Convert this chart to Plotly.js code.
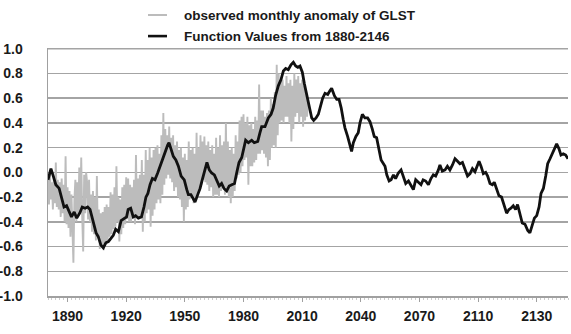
<!DOCTYPE html>
<html>
<head>
<meta charset="utf-8">
<script src="https://cdn.plot.ly/plotly-3.0.1.min.js"></script>
<style>
  html, body { margin: 0; padding: 0; background: #ffffff; }
  #chart { width: 571px; height: 334px; }
</style>
</head>
<body>
<div id="chart"></div>
<script>
// Observed monthly anomaly of GLST, sampled every half year from 1880.0
const obsStartYear = 1880;
const obsStep = 0.5;
const obsValues = [
  -0.05, -0.26, 0.00, -0.22,
  -0.08, -0.30, -0.03, -0.25,
  0.08, -0.28, -0.06, -0.30,
  -0.08, -0.36, -0.05, -0.33,
  -0.10, -0.40, 0.13, -0.42,
  -0.12, -0.45, -0.15, -0.52,
  -0.18, -0.48, -0.73, -0.22,
  -0.06, -0.40, -0.08, -0.35,
  0.04, -0.33, 0.12, -0.36,
  -0.64, -0.02, -0.33, 0.00,
  -0.08, -0.38, -0.06, -0.40,
  -0.18, -0.48, -0.15, -0.50,
  -0.20, -0.55, -0.03, -0.52,
  -0.30, -0.62, -0.33, -0.60,
  -0.32, -0.63, -0.28, -0.58,
  -0.26, -0.55, -0.28, -0.52,
  -0.16, -0.50, -0.18, -0.46,
  -0.12, -0.44, 0.05, -0.40,
  -0.20, -0.56, -0.22, -0.50,
  -0.12, -0.45, -0.10, -0.42,
  -0.04, -0.38, -0.05, -0.40,
  -0.10, -0.40, -0.12, -0.37,
  -0.06, -0.42, 0.14, -0.35,
  -0.05, -0.38, -0.02, -0.36,
  0.10, -0.48, -0.02, -0.40,
  0.18, -0.33, 0.10, -0.30,
  0.20, -0.44, 0.12, -0.35,
  0.18, -0.30, 0.20, -0.25,
  0.22, -0.22, 0.15, -0.25,
  0.30, -0.18, 0.48, -0.10,
  0.35, -0.05, 0.30, -0.02,
  0.37, -0.05, 0.28, -0.08,
  0.30, -0.15, 0.22, -0.12,
  0.25, -0.20, 0.18, -0.22,
  0.20, -0.28, 0.12, -0.40,
  0.15, -0.30, 0.10, -0.28,
  0.25, -0.22, 0.18, -0.20,
  0.20, -0.25, 0.15, -0.22,
  0.32, -0.18, 0.20, -0.15,
  0.30, -0.10, 0.25, -0.06,
  0.29, -0.08, 0.22, -0.10,
  0.25, -0.15, 0.18, -0.12,
  0.22, -0.20, 0.15, -0.18,
  0.28, -0.18, 0.20, -0.20,
  0.30, -0.15, 0.22, -0.12,
  0.25, -0.18, 0.40, -0.16,
  0.25, -0.20, 0.18, -0.25,
  0.20, -0.20, 0.15, -0.15,
  0.30, -0.05, 0.25, -0.02,
  0.42, 0.00, 0.45, 0.05,
  0.47, 0.10, 0.40, 0.12,
  0.45, -0.10, 0.38, 0.05,
  0.40, 0.05, 0.35, 0.08,
  0.45, 0.10, 0.42, 0.15,
  0.71, 0.15, 0.50, 0.18,
  0.50, 0.15, 0.45, 0.12,
  0.48, 0.05, 0.50, 0.10,
  0.60, 0.20, 0.55, 0.22,
  0.65, 0.20, 0.87, 0.30,
  0.80, 0.40, 0.75, 0.42,
  0.75, 0.40, 0.70, 0.45,
  0.78, 0.45, 0.72, 0.40,
  0.75, 0.25, 0.70, 0.35,
  0.80, 0.45, 0.75, 0.48,
  0.78, 0.40, 0.72, 0.45,
  0.75, 0.37, 0.70, 0.42,
  0.65, 0.45, 0.60
];

// Function values from 1880-2146
const fnYears = [
  1880.0, 1881.5, 1882.7, 1884.0, 1885.7, 1887.0, 1888.2, 1889.5, 1890.7, 1892.0,
  1893.4, 1894.7, 1896.2, 1897.5, 1899.0, 1900.3, 1901.5, 1902.9, 1904.6, 1905.7,
  1907.1, 1908.3, 1909.6, 1910.9, 1912.2, 1913.4, 1914.6, 1916.0, 1917.4, 1919.0,
  1920.2, 1921.0, 1922.3, 1923.6, 1924.8, 1926.2, 1927.8, 1929.1, 1930.1, 1931.1,
  1932.2, 1933.4, 1934.7, 1936.1, 1937.3, 1938.5, 1939.8, 1941.2, 1941.9, 1943.0,
  1944.1, 1945.4, 1946.7, 1948.1, 1949.7, 1951.0, 1951.8, 1953.1, 1954.3, 1955.2,
  1956.6, 1957.8, 1958.9, 1960.3, 1961.3, 1962.5, 1963.7, 1965.1, 1966.3, 1967.6,
  1968.8, 1970.0, 1971.4, 1972.7, 1974.0, 1975.4, 1976.5, 1977.7, 1979.1, 1980.0,
  1981.1, 1982.5, 1984.2, 1985.5, 1987.3, 1988.4, 1989.3, 1991.0, 1992.7, 1994.1,
  1995.2, 1996.4, 1997.8, 1999.2, 2000.4, 2001.6, 2002.9, 2004.3, 2005.5, 2006.7,
  2007.8, 2008.9, 2010.1, 2011.1, 2012.3, 2013.5, 2014.9, 2015.9, 2017.1, 2018.3,
  2019.6, 2020.5, 2021.7, 2023.1, 2024.2, 2025.1, 2026.5, 2027.7, 2028.9, 2030.0,
  2031.0, 2031.9, 2033.3, 2034.5, 2035.3, 2036.2, 2037.5, 2038.7, 2039.6, 2040.8,
  2042.1, 2043.5, 2044.7, 2045.9, 2046.9, 2048.1, 2049.0, 2050.4, 2051.2, 2052.4,
  2053.3, 2054.5, 2055.5, 2056.7, 2057.8, 2059.2, 2060.6, 2061.8, 2063.0, 2064.4,
  2065.7, 2066.9, 2068.1, 2069.4, 2070.8, 2071.9, 2073.2, 2074.6, 2075.9, 2077.1,
  2078.3, 2079.7, 2080.5, 2081.7, 2083.1, 2084.3, 2085.6, 2086.9, 2088.2, 2089.5,
  2090.7, 2092.0, 2093.3, 2094.6, 2095.9, 2097.1, 2098.4, 2099.7, 2100.5, 2101.5,
  2102.7, 2103.9, 2104.9, 2106.1, 2107.3, 2108.3, 2109.5, 2110.7, 2112.0, 2112.9,
  2113.8, 2114.6, 2115.8, 2116.8, 2118.0, 2119.2, 2120.2, 2121.5, 2122.6, 2124.0,
  2125.4, 2126.5, 2127.4, 2128.8, 2130.0, 2131.2, 2132.2, 2133.4, 2134.6, 2135.6,
  2136.8, 2138.0, 2139.0, 2140.2, 2141.4, 2142.4, 2143.6, 2144.8, 2146.0
];
const fnValues = [
  -0.06, 0.03, -0.03, -0.10, -0.13, -0.22, -0.28, -0.27, -0.32, -0.36,
  -0.32, -0.37, -0.33, -0.28, -0.29, -0.28, -0.30, -0.38, -0.49, -0.52,
  -0.59, -0.61, -0.57, -0.56, -0.53, -0.51, -0.46, -0.48, -0.39, -0.37,
  -0.36, -0.30, -0.29, -0.36, -0.35, -0.37, -0.36, -0.28, -0.20, -0.17,
  -0.10, -0.05, -0.06, -0.005, 0.05, 0.10, 0.16, 0.22, 0.24, 0.18,
  0.13, 0.10, 0.05, -0.03, -0.06, -0.14, -0.18, -0.18, -0.22, -0.24,
  -0.18, -0.13, -0.06, 0.02, 0.08, 0.02, -0.005, -0.02, -0.07, -0.11,
  -0.09, -0.13, -0.15, -0.11, -0.10, -0.09, -0.005, 0.08, 0.12, 0.18,
  0.26, 0.24, 0.26, 0.24, 0.25, 0.32, 0.37, 0.37, 0.44, 0.47,
  0.52, 0.62, 0.70, 0.75, 0.82, 0.84, 0.83, 0.87, 0.89, 0.86,
  0.85, 0.86, 0.81, 0.72, 0.63, 0.54, 0.44, 0.42, 0.44, 0.47,
  0.54, 0.60, 0.64, 0.63, 0.66, 0.68, 0.62, 0.59, 0.59, 0.52,
  0.43, 0.36, 0.29, 0.21, 0.17, 0.24, 0.29, 0.32, 0.40, 0.47,
  0.44, 0.44, 0.41, 0.35, 0.29, 0.28, 0.21, 0.10, 0.08, 0.05,
  -0.02, -0.07, -0.06, -0.02, -0.05, -0.005, 0.02, -0.03, -0.09, -0.07,
  -0.11, -0.14, -0.06, -0.08, -0.10, -0.06, -0.07, -0.10, -0.05, -0.02,
  -0.03, 0.02, 0.06, 0.01, 0.02, 0.05, 0.02, 0.06, 0.11, 0.09,
  0.07, 0.08, 0.02, -0.03, -0.01, 0.03, 0.005, 0.05, 0.09, 0.05,
  -0.01, 0.00, -0.03, -0.09, -0.10, -0.08, -0.13, -0.19, -0.20, -0.24,
  -0.29, -0.33, -0.30, -0.29, -0.27, -0.30, -0.26, -0.33, -0.41, -0.42,
  -0.47, -0.49, -0.44, -0.37, -0.35, -0.28, -0.17, -0.13, -0.03, 0.07,
  0.11, 0.15, 0.18, 0.23, 0.19, 0.14, 0.15, 0.14, 0.11
];

// Axis labels
const xTickVals = [1890, 1920, 1950, 1980, 2010, 2040, 2070, 2100, 2130];
const xTickText = ['1890', '1920', '1950', '1980', '2010', '2040', '2070', '2110', '2130'];
const yTickVals = [1.0, 0.8, 0.6, 0.4, 0.2, 0.0, -0.2, -0.4, -0.6, -0.8, -1.0];
const yTickText = ['1.0', '0.8', '0.6', '0.4', '0.2', '0.0', '-0.2', '-0.4', '-0.6', '-0.8', '-1.0'];

// Legend entries
const legendNames = ['observed monthly anomaly of GLST', 'Function Values from 1880-2146'];

const OBS_COLOR = '#bcbcbc';
const FN_COLOR = '#111111';
const AXIS_GREY = '#a0a0a0';
const GRID_GREY = '#a4a4a4';
const TEXT_FONT = { family: 'Liberation Sans, Arial, sans-serif', size: 14, color: '#1a1a1a', weight: 'bold' };

const obsYears = obsValues.map((_, i) => obsStartYear + i * obsStep);

const traces = [
  {
    type: 'scatter', mode: 'lines', name: legendNames[0],
    x: obsYears, y: obsValues,
    line: { color: OBS_COLOR, width: 1.9 },
    hoverinfo: 'skip'
  },
  {
    type: 'scatter', mode: 'lines', name: legendNames[1],
    x: fnYears, y: fnValues,
    line: { color: FN_COLOR, width: 2.8, shape: 'linear' },
    hoverinfo: 'skip'
  }
];

// Hand-placed legend above the plot area (paper coordinates)
const legendRows = [
  { y: 1.133, color: OBS_COLOR, width: 2, text: legendNames[0] },
  { y: 1.048, color: FN_COLOR, width: 2.6, text: legendNames[1] }
];

const legendShapes = legendRows.map(r => ({
  type: 'line', xref: 'paper', yref: 'paper',
  x0: 0.1923, x1: 0.2288, y0: r.y, y1: r.y,
  line: { color: r.color, width: r.width }
}));

// Top reference line at 1.0 (the axis edge drops its own grid line)
const topLine = {
  type: 'line', xref: 'paper', yref: 'y', layer: 'below',
  x0: 0, x1: 1, y0: yTickVals[0], y1: yTickVals[0],
  line: { color: GRID_GREY, width: 1.5 }
};

const annotations = legendRows.map(r => ({
  xref: 'paper', yref: 'paper', x: 0.2577, y: r.y,
  xanchor: 'left', yanchor: 'middle', showarrow: false,
  text: r.text, font: Object.assign({}, TEXT_FONT, { size: 13.5 })
}));

const layout = {
  width: 571, height: 334,
  margin: { l: 48, r: 3, t: 48, b: 38, pad: 0 },
  paper_bgcolor: '#ffffff', plot_bgcolor: '#ffffff',
  showlegend: false,
  xaxis: {
    range: [1880, 2146],
    tickmode: 'array', tickvals: xTickVals, ticktext: xTickText,
    showgrid: false, zeroline: false,
    showline: true, linecolor: AXIS_GREY, linewidth: 1.5,
    ticks: 'outside', ticklen: 4, tickcolor: AXIS_GREY, tickwidth: 1,
    minor: { tickmode: 'linear', tick0: 1880, dtick: 2, ticks: 'outside', ticklen: 2, tickcolor: '#cccccc', tickwidth: 1, showgrid: false },
    tickfont: TEXT_FONT,
    ticklabelstandoff: 3
  },
  yaxis: {
    range: [-1.0, 1.006],
    tickmode: 'array', tickvals: yTickVals, ticktext: yTickText,
    showgrid: true, gridcolor: GRID_GREY, gridwidth: 1.5,
    zeroline: false,
    showline: true, linecolor: AXIS_GREY, linewidth: 1.5,
    ticks: '', tickfont: TEXT_FONT,
    ticklabelstandoff: 21
  },
  shapes: [topLine].concat(legendShapes),
  annotations: annotations
};

Plotly.newPlot('chart', traces, layout, { staticPlot: true, displayModeBar: false });
</script>
</body>
</html>
